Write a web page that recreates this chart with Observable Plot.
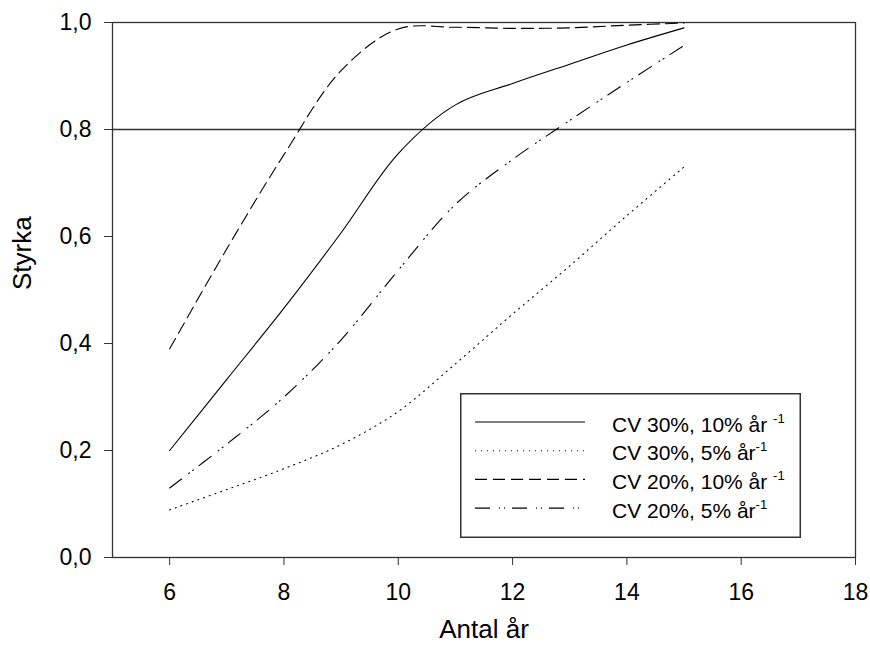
<!DOCTYPE html>
<html>
<head>
<meta charset="utf-8">
<script src="https://cdn.jsdelivr.net/npm/d3@7"></script>
<script src="https://cdn.jsdelivr.net/npm/@observablehq/plot@0.6"></script>
<style>
  html, body { margin: 0; padding: 0; background: white; }
  #wrap { position: relative; width: 870px; height: 653px; font-family: "Liberation Sans", Arial, sans-serif; }
  #legend { position: absolute; left: 460px; top: 393px; }
</style>
</head>
<body>
<div id="wrap"></div>
<script>
// ---- data ----
const years = [6, 7, 8, 9, 10, 11, 12, 13, 14, 15];
const cv30_10 = [0.20, 0.333, 0.466, 0.607, 0.755, 0.846, 0.886, 0.922, 0.958, 0.99];
const cv30_5  = [0.089, 0.127, 0.166, 0.211, 0.273, 0.362, 0.455, 0.545, 0.639, 0.73];
const cv20_10 = [0.39, 0.577, 0.753, 0.91, 0.988, 0.991, 0.989, 0.99, 0.995, 0.999];
const cv20_5  = [0.13, 0.212, 0.30, 0.407, 0.537, 0.66, 0.744, 0.817, 0.888, 0.957];
const seriesNames = ["CV 30%, 10% år", "CV 30%, 5% år", "CV 20%, 10% år", "CV 20%, 5% år"];
const seriesValues = [cv30_10, cv30_5, cv20_10, cv20_5];
const xTicks = [6, 8, 10, 12, 14, 16, 18];
const yTicks = [0, 0.2, 0.4, 0.6, 0.8, 1.0];
const refLines = [0.8];
const xLabel = "Antal år";
const yLabel = "Styrka";

// ---- styles ----
const dashes = ["none", "1 5", "12 6", "15 9 1 4 1 7"];
const superSpace = [true, false, true, false];

const table = [];
seriesNames.forEach((s, i) => years.forEach((yr, j) => table.push({series: s, idx: i, x: yr, y: seriesValues[i][j]})));

const fmt = d => d.toFixed(1).replace(".", ",");
const font = "'Liberation Sans', Arial, sans-serif";

const chart = Plot.plot({
  width: 870,
  height: 653,
  marginLeft: 112,
  marginRight: 15,
  marginTop: 22,
  marginBottom: 96,
  x: {domain: [5, 18]},
  y: {domain: [0, 1]},
  style: {fontFamily: font, color: "black", background: "white", overflow: "visible"},
  marks: [
    Plot.ruleY(refLines, {stroke: "#333", strokeWidth: 1.3}),
    Plot.frame({stroke: "#333", strokeWidth: 1.3}),
    ...seriesNames.map((s, i) => Plot.line(table.filter(d => d.idx === i), {
      x: "x", y: "y", curve: "catmull-rom", stroke: "black", strokeWidth: 1.1,
      strokeDasharray: dashes[i] === "none" ? null : dashes[i]
    })),
    Plot.axisX({ticks: xTicks, tickSize: 8, tickPadding: 18, fontSize: 23, label: null, stroke: "#333"}),
    Plot.axisY({ticks: yTicks, tickSize: 8, tickPadding: 13, fontSize: 23, label: null, tickFormat: fmt, stroke: "#333"}),
    Plot.text([yLabel], {text: d => d, frameAnchor: "left", dx: -90, rotate: -90, fontSize: 26}),
    Plot.text([xLabel], {text: d => d, frameAnchor: "bottom", dy: 80, fontSize: 26})
  ]
});
const wrap = document.getElementById("wrap");
wrap.appendChild(chart);

// ---- legend ----
const W = 341, H = 145;
const leg = d3.select(wrap).append("svg")
  .attr("id", "legend").attr("width", W + 2).attr("height", H + 2)
  .style("font-family", font);
leg.append("rect").attr("x", 0.75).attr("y", 0.75).attr("width", W - 1.5).attr("height", H - 1.5)
  .attr("fill", "white").attr("stroke", "#333").attr("stroke-width", 1.5);
const rowY = i => 29 + i * 28.7;
seriesNames.forEach((s, i) => {
  leg.append("line").attr("x1", 15).attr("x2", 125).attr("y1", rowY(i)).attr("y2", rowY(i))
    .attr("stroke", "black").attr("stroke-width", 1.1)
    .attr("stroke-dasharray", dashes[i] === "none" ? null : dashes[i]);
  const t = leg.append("text").attr("x", 152).attr("y", rowY(i) + 9.5).attr("font-size", 21).attr("fill", "black");
  t.append("tspan").text(s + (superSpace[i] ? " " : ""));
  t.append("tspan").attr("dy", -9).attr("font-size", 13).text("-1");
});
</script>
</body>
</html>
